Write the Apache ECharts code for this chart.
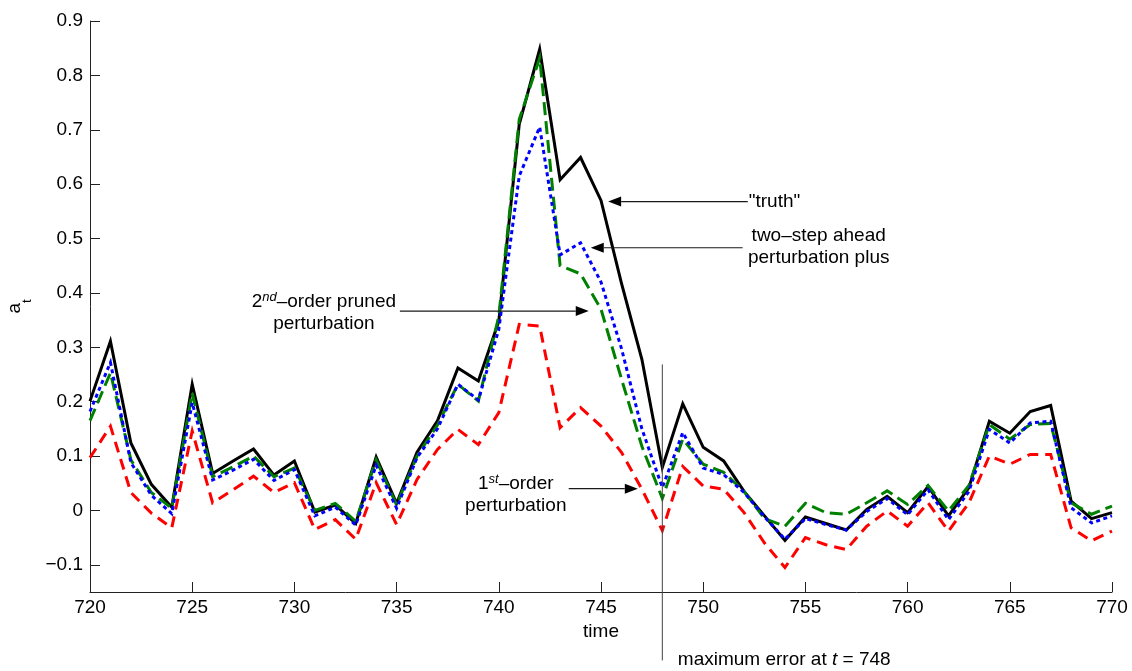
<!DOCTYPE html>
<html>
<head>
<meta charset="utf-8">
<script src="https://cdn.jsdelivr.net/npm/echarts@6/dist/echarts.min.js"></script>
<style>
  html, body { margin: 0; padding: 0; background: #fff; }
  #chart { width: 1132px; height: 671px; }
</style>
</head>
<body>
<div id="chart"></div>
<script>
// Time index of the simulated path
const times = [720, 721, 722, 723, 724, 725, 726, 727, 728, 729,
               730, 731, 732, 733, 734, 735, 736, 737, 738, 739,
               740, 741, 742, 743, 744, 745, 746, 747, 748, 749,
               750, 751, 752, 753, 754, 755, 756, 757, 758, 759,
               760, 761, 762, 763, 764, 765, 766, 767, 768, 769, 770];

// "truth": the exact solution
const truth = [0.201, 0.311, 0.124, 0.048, 0.006, 0.232, 0.068, 0.091, 0.113, 0.065,
               0.091, -0.003, 0.010, -0.024, 0.098, 0.013, 0.107, 0.165, 0.262, 0.238,
               0.348, 0.710, 0.848, 0.608, 0.649, 0.570, 0.418, 0.278, 0.079, 0.196,
               0.116, 0.091, 0.035, -0.010, -0.055, -0.012, -0.024, -0.036, 0.002, 0.026,
               -0.004, 0.044, -0.010, 0.042, 0.164, 0.142, 0.182, 0.193, 0.017, -0.015, -0.004];

// two-step ahead perturbation plus
const twoStep = [0.182, 0.272, 0.088, 0.028, -0.006, 0.198, 0.056, 0.074, 0.094, 0.055,
                 0.075, -0.010, 0.006, -0.027, 0.083, 0.004, 0.097, 0.150, 0.232, 0.203,
                 0.333, 0.615, 0.705, 0.470, 0.492, 0.420, 0.298, 0.150, 0.042, 0.143,
                 0.078, 0.066, 0.033, -0.012, -0.053, -0.015, -0.026, -0.036, -0.002, 0.022,
                 -0.008, 0.038, -0.017, 0.035, 0.149, 0.124, 0.161, 0.164, 0.005, -0.023, -0.010];

// 2nd-order pruned perturbation
const pruned2 = [0.165, 0.253, 0.093, 0.033, 0.004, 0.216, 0.062, 0.080, 0.100, 0.062,
                 0.078, 0.000, 0.013, -0.020, 0.093, 0.010, 0.100, 0.157, 0.232, 0.201,
                 0.357, 0.719, 0.832, 0.450, 0.435, 0.370, 0.242, 0.118, 0.022, 0.131,
                 0.085, 0.070, 0.035, -0.015, -0.029, 0.013, -0.004, -0.007, 0.014, 0.036,
                 0.011, 0.046, -0.001, 0.046, 0.158, 0.131, 0.158, 0.160, 0.014, -0.007, 0.008];

// 1st-order perturbation
const first1 = [0.097, 0.155, 0.033, -0.005, -0.032, 0.146, 0.014, 0.038, 0.063, 0.033,
                0.051, -0.035, -0.017, -0.053, 0.051, -0.026, 0.057, 0.112, 0.149, 0.121,
                0.180, 0.342, 0.339, 0.152, 0.189, 0.155, 0.107, 0.039, -0.037, 0.081,
                0.045, 0.039, -0.004, -0.060, -0.105, -0.050, -0.063, -0.072, -0.029, -0.001,
                -0.029, 0.014, -0.038, 0.014, 0.100, 0.085, 0.103, 0.103, -0.032, -0.056, -0.038];

// Axis ticks
const xTicks = [720, 725, 730, 735, 740, 745, 750, 755, 760, 765, 770];
const yTicks = [-0.1, 0, 0.1, 0.2, 0.3, 0.4, 0.5, 0.6, 0.7, 0.8, 0.9];

const FONT = '"Liberation Sans", Arial, Helvetica, sans-serif';
const FS = 19;

function pairs(vals) { return times.map((t, i) => [t, vals[i]]); }

function lineSeries(name, vals, color, type, z) {
  return {
    name, type: 'line', data: pairs(vals), symbol: 'none', z,
    lineStyle: { color, width: 3, type, cap: 'butt', join: 'miter' },
    silent: true, animation: false
  };
}

const chart = echarts.init(document.getElementById('chart'), null, { renderer: 'canvas' });

chart.setOption({
  animation: false,
  backgroundColor: '#fff',
  grid: { left: 90, right: 20, top: 21, bottom: 79, containLabel: false, outerBoundsMode: 'none' },
  xAxis: {
    type: 'value', min: xTicks[0], max: xTicks[xTicks.length - 1], interval: 5,
    name: 'time', nameLocation: 'middle', nameGap: 29,
    nameTextStyle: { fontFamily: FONT, fontSize: FS, color: '#000' },
    axisLine: { show: true, onZero: false, lineStyle: { color: '#222', width: 1 } },
    axisTick: { show: true, inside: true, length: 10, lineStyle: { color: '#222', width: 1 } },
    axisLabel: { fontFamily: FONT, fontSize: FS, color: '#000', margin: 6 },
    splitLine: { show: false }
  },
  yAxis: {
    type: 'value', min: -0.15, max: 0.9,
    name: '{a|a}{t|t}', nameLocation: 'middle', nameRotate: 90, nameGap: 56,
    nameTextStyle: {
      color: '#000',
      rich: {
        a: { fontFamily: FONT, fontSize: FS, lineHeight: 38, color: '#000' },
        t: { fontFamily: FONT, fontSize: 13, lineHeight: 13, verticalAlign: 'bottom', color: '#000' }
      }
    },
    axisLine: { show: true, onZero: false, lineStyle: { color: '#222', width: 1 } },
    axisTick: { show: true, inside: true, length: 10, customValues: yTicks,
                lineStyle: { color: '#222', width: 1 } },
    axisLabel: {
      fontFamily: FONT, fontSize: FS, color: '#000', margin: 7, customValues: yTicks,
      formatter: v => v === 0 ? '0' : (v < 0 ? '\u2212' : '') + Math.abs(v).toFixed(1)
    },
    splitLine: { show: false }
  },
  series: [
    lineSeries('truth', truth, '#000000', 'solid', 2),
    lineSeries('1st-order perturbation', first1, '#ff0000', [11, 7], 3),
    lineSeries('2nd-order pruned perturbation', pruned2, '#008000', [13, 6], 4),
    lineSeries('two-step ahead perturbation plus', twoStep, '#0000ff', [4, 3.5], 5)
  ]
});

// Annotations, anchored in data coordinates
const arrows = [
  { from: [752.18, 0.568], to: [745.35, 0.568] },   // "truth"
  { from: [751.93, 0.483], to: [744.50, 0.483] },   // two-step ahead
  { from: [735.16, 0.3665], to: [744.40, 0.3665] }, // 2nd-order pruned
  { from: [743.42, 0.040], to: [746.80, 0.040] }    // 1st-order
];
const maxErrT = 748;

function px(p) { return chart.convertToPixel({ gridIndex: 0 }, p); }

const g = [];
arrows.forEach(a => {
  const p0 = px(a.from), p1 = px(a.to);
  const dx = p1[0] - p0[0], dy = p1[1] - p0[1];
  const len = Math.hypot(dx, dy), ux = dx / len, uy = dy / len;
  const hl = 13, hw = 5;
  const bx = p1[0] - ux * hl, by = p1[1] - uy * hl;
  g.push({ type: 'line', silent: true, z: 50,
    shape: { x1: p0[0], y1: p0[1], x2: bx, y2: by },
    style: { stroke: '#1a1a1a', lineWidth: 1.2 } });
  g.push({ type: 'polygon', silent: true, z: 50,
    shape: { points: [[p1[0], p1[1]], [bx - uy * hw, by + ux * hw], [bx + uy * hw, by - ux * hw]] },
    style: { fill: '#000' } });
});

// vertical marker at the time of the largest error
const vTop = px([maxErrT, 0.2685]), vBot = px([maxErrT, -0.2758]);
g.push({ type: 'line', silent: true, z: 50,
  shape: { x1: vTop[0], y1: vTop[1], x2: vBot[0], y2: vBot[1] },
  style: { stroke: '#444', lineWidth: 1 } });

const baseRich = { n: { fontFamily: FONT, fontSize: FS, lineHeight: 22, fill: '#000' },
                   s: { fontFamily: FONT, fontSize: 13, fontStyle: 'italic', lineHeight: 22,
                        verticalAlign: 'top', fill: '#000' },
                   i: { fontFamily: FONT, fontSize: FS, fontStyle: 'italic', lineHeight: 22, fill: '#000' } };

function label(pos, text, align, dx, dy) {
  const p = px(pos);
  g.push({ type: 'text', silent: true, z: 60, x: p[0] + (dx || 0), y: p[1] + (dy || 0),
    style: { text, rich: baseRich, fontFamily: FONT, fontSize: FS, fill: '#000',
             align, verticalAlign: 'middle' } });
}

label([752.18, 0.568], '{n|"truth"}', 'left', 1, 0);
label([755.65, 0.483], '{n|two\u2013step ahead}\n{n|perturbation plus}', 'center', 0, -1);
label([731.44, 0.3665], '{n|2}{s|nd}{n|\u2013order pruned}\n{n|perturbation}', 'center', 0, 2);
label([740.83, 0.040], '{n|1}{s|st}{n|\u2013order}\n{n|perturbation}', 'center', 0, 6);
label([748.76, -0.274], '{n|maximum error at }{i|t}{n| = 748}', 'left', 0, 0);

chart.setOption({ graphic: g });
</script>
</body>
</html>
